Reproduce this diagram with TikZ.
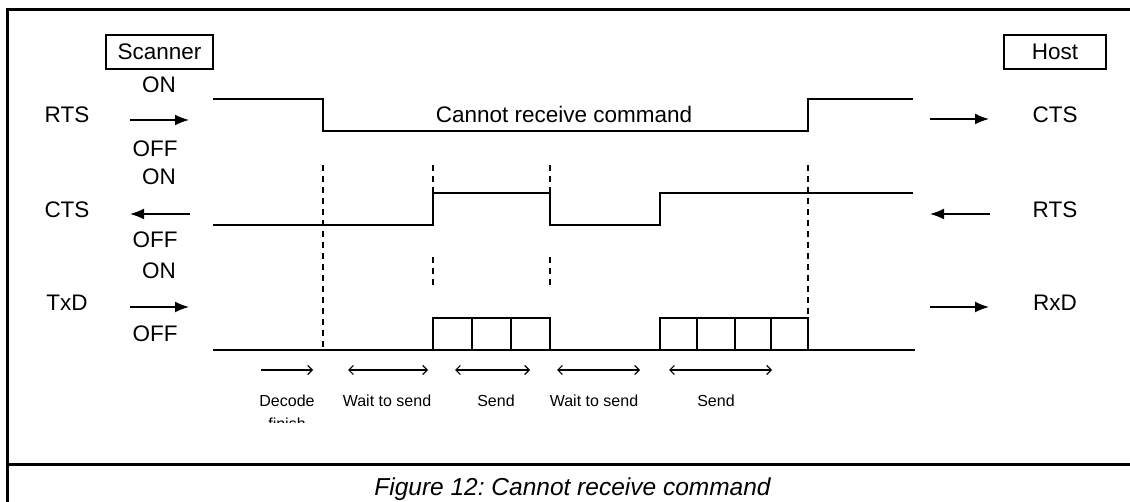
\documentclass[tikz,border=0pt]{standalone}
\usepackage{fontspec}
\setmainfont{Liberation Sans}
\usetikzlibrary{arrows.meta}
\frenchspacing

\begin{document}
\begin{tikzpicture}[x=1pt,y=-1pt,
  lbl/.style={font=\fontsize{22.5}{27}\selectfont, anchor=base, inner sep=0pt},
  small/.style={font=\fontsize{16}{22}\selectfont, anchor=base, inner sep=0pt},
  endbox/.style={draw, line width=1.5pt, minimum width=#1, minimum height=34pt,
    inner sep=0pt, font=\fontsize{22.5}{27}\selectfont},
  sig/.style={line width=1.8pt, line join=miter},
  frameline/.style={line width=3pt},
  guide/.style={line width=1.3pt, dash pattern=on 6pt off 5pt},
  dir/.style={line width=1.6pt, -{Latex[length=14pt,width=11pt]}},
  span/.style={line width=1.2pt,
    {Straight Barb[length=4.5pt,width=9pt]}-{Straight Barb[length=4.5pt,width=9pt]}},
  oneway/.style={line width=1.2pt, -{Straight Barb[length=4.5pt,width=9pt]}}]

\useasboundingbox (0,0) rectangle (1130,502);

% outer frame and caption separator
\coordinate (fTR) at (1130,10);
\coordinate (fTL) at (7,10);
\coordinate (fBL) at (7,502);
\coordinate (cL) at (7,464);
\coordinate (cR) at (1130,464);
\draw[frameline] (fTR) -- (fTL) -- (fBL);
\draw[frameline] (cL) -- (cR);
\node[font=\fontsize{24.5}{29}\selectfont\itshape, anchor=base, inner sep=0pt]
  (caption) at (572.5,495) {Figure 12: Cannot receive command};

% end-point boxes
\node[endbox=107pt] (scanner) at (159.5,52) {Scanner};
\node[endbox=102pt] (host) at (1055,52) {Host};

% scanner-side labels
\node[lbl] (on1)  at (159,93)  {ON};
\node[lbl] (rtsL) at (67,123)  {RTS};
\node[lbl] (off1) at (155,157) {OFF};
\node[lbl] (on2)  at (159,185) {ON};
\node[lbl] (ctsL) at (67,218)  {CTS};
\node[lbl] (off2) at (155,248) {OFF};
\node[lbl] (on3)  at (159,279) {ON};
\node[lbl] (txdL) at (67,311)  {TxD};
\node[lbl] (off3) at (155,342) {OFF};

% host-side labels
\node[lbl] (ctsR) at (1055,123) {CTS};
\node[lbl] (rtsR) at (1055,218) {RTS};
\node[lbl] (rxdR) at (1055,311) {RxD};

% direction arrows
\coordinate (aL1a) at (130,120); \coordinate (aL1b) at (189,120);
\coordinate (aL2a) at (190,214); \coordinate (aL2b) at (130,214);
\coordinate (aL3a) at (130,307); \coordinate (aL3b) at (189,307);
\coordinate (aR1a) at (930,119); \coordinate (aR1b) at (989,119);
\coordinate (aR2a) at (990,214); \coordinate (aR2b) at (930,214);
\coordinate (aR3a) at (930,307); \coordinate (aR3b) at (989,307);
\draw[dir] (aL1a) -- (aL1b);
\draw[dir] (aL2a) -- (aL2b);
\draw[dir] (aL3a) -- (aL3b);
\draw[dir] (aR1a) -- (aR1b);
\draw[dir] (aR2a) -- (aR2b);
\draw[dir] (aR3a) -- (aR3b);

% RTS (scanner) / CTS (host) line
\coordinate (r0) at (213,99);
\coordinate (r1) at (323,99);
\coordinate (r2) at (323,131);
\coordinate (r3) at (808,131);
\coordinate (r4) at (808,99);
\coordinate (r5) at (913,99);
\draw[sig] (r0) -- (r1) -- (r2) -- (r3) -- (r4) -- (r5);
\node[lbl] (busy) at (564,123) {Cannot receive command};

% CTS (scanner) / RTS (host) line
\coordinate (c0) at (213,225);
\coordinate (c1) at (433,225);
\coordinate (c2) at (433,193);
\coordinate (c3) at (550,193);
\coordinate (c4) at (550,225);
\coordinate (c5) at (660,225);
\coordinate (c6) at (660,193);
\coordinate (c7) at (913,193);
\draw[sig] (c0) -- (c1) -- (c2) -- (c3) -- (c4) -- (c5) -- (c6) -- (c7);

% TxD / RxD line with data frames
\coordinate (t0) at (213,350);
\coordinate (t1) at (915,350);
\draw[sig] (t0) -- (t1);
\draw[sig] (433,350) rectangle (550,318);
\draw[sig] (472,318) -- (472,350) (511,318) -- (511,350);
\draw[sig] (660,350) rectangle (808,318);
\draw[sig] (697,318) -- (697,350) (735,318) -- (735,350) (771,318) -- (771,350);

% timing guides
\coordinate (g1a) at (323,165); \coordinate (g1b) at (323,350);
\coordinate (g2a) at (433,165); \coordinate (g2b) at (433,193);
\coordinate (g2c) at (433,257); \coordinate (g2d) at (433,287);
\coordinate (g3a) at (550,165); \coordinate (g3b) at (550,193);
\coordinate (g3c) at (550,257); \coordinate (g3d) at (550,287);
\coordinate (g4a) at (808,165); \coordinate (g4b) at (808,318);
\draw[guide] (g1a) -- (g1b);
\draw[guide] (g2a) -- (g2b);
\draw[guide] (g2c) -- (g2d);
\draw[guide] (g3a) -- (g3b);
\draw[guide] (g3c) -- (g3d);
\draw[guide] (g4a) -- (g4b);

% phase spans
\coordinate (p1a) at (261,370); \coordinate (p1b) at (313,370);
\coordinate (p2a) at (348,370); \coordinate (p2b) at (428,370);
\coordinate (p3a) at (455,370); \coordinate (p3b) at (530,370);
\coordinate (p4a) at (557,370); \coordinate (p4b) at (640,370);
\coordinate (p5a) at (669,370); \coordinate (p5b) at (772,370);
\draw[oneway] (p1a) -- (p1b);
\draw[span] (p2a) -- (p2b);
\draw[span] (p3a) -- (p3b);
\draw[span] (p4a) -- (p4b);
\draw[span] (p5a) -- (p5b);

\node[small] (decode) at (287,407) {Decode};
\begin{scope}
  \clip (240,380) rectangle (340,422.5);
  \node[small] (finish) at (287,429) {finish};
\end{scope}
\node[small] (wait1) at (387,407) {Wait to send};
\node[small] (send1) at (496,407) {Send};
\node[small] (wait2) at (594,407) {Wait to send};
\node[small] (send2) at (716,407) {Send};

\end{tikzpicture}
\end{document}
